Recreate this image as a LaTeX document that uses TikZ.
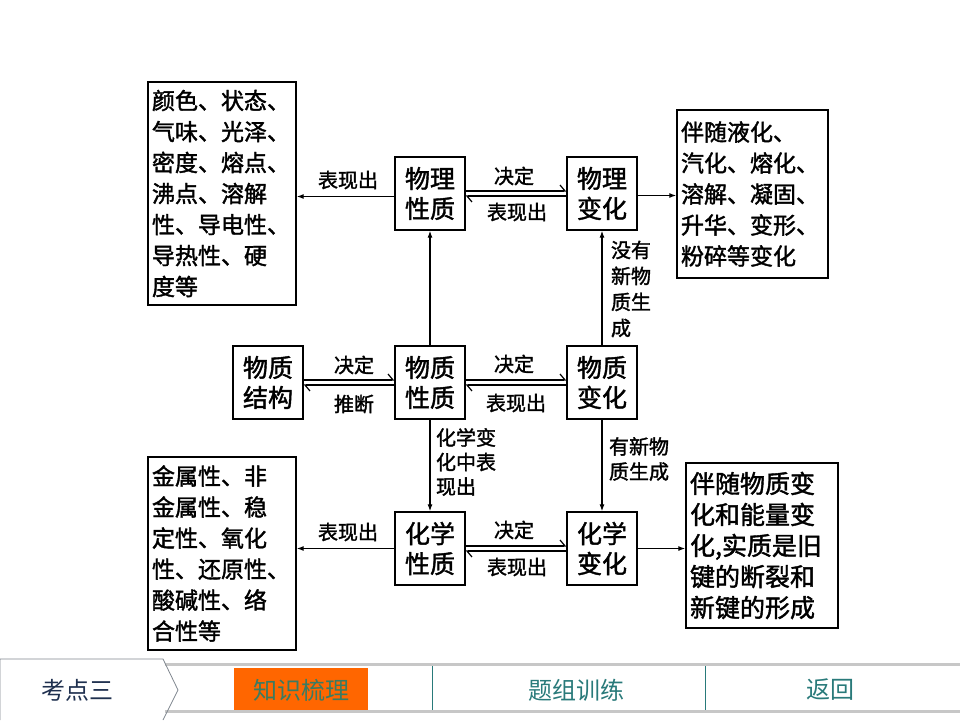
\documentclass[tikz,border=0pt]{standalone}
\usepackage{fontspec}
\setmainfont{Noto Sans CJK SC}[FakeBold=1.6,AutoFakeBold=1.6]
\newfontfamily\navfont{Noto Sans CJK SC}
\usetikzlibrary{arrows.meta}
\definecolor{tabgrey}{rgb}{0.50, 0.53, 0.56}
\definecolor{barline}{rgb}{0.78, 0.78, 0.78}
\definecolor{tabnavy}{rgb}{0.12, 0.19, 0.31}
\definecolor{menuteal}{rgb}{0.16, 0.48, 0.48}
\definecolor{menuorange}{rgb}{1.0, 0.40, 0.0}

\tikzset{
  box/.style={draw,line width=1.4pt,minimum width=70pt,minimum height=73pt,
    inner sep=0pt,align=center,font=\fontsize{25}{30}\selectfont},
  bigbox/.style={draw,line width=1.4pt,inner xsep=4pt,inner ysep=0pt,
    align=left,font=\fontsize{23}{31}\selectfont},
  lbl/.style={inner sep=0pt,font=\fontsize{20}{25}\selectfont},
  arr/.style={line width=1.1pt,-{Latex[length=7pt,width=5pt]}},
  harp/.style={line width=1.2pt,-{Straight Barb[left,length=5pt,width=12pt]}},
  navtext/.style={font=\navfont\fontsize{24}{24}\selectfont},
}

\begin{document}
\begin{tikzpicture}[x=1pt,y=-1pt]
\useasboundingbox[fill=white] (0,0) rectangle (960,720);
  % the six small boxes
  \node[box] (wlxz) at (430,193.5) {物理\\性质};
  \node[box] (wlbh) at (602,193.5) {物理\\变化};
  \node[box] (wzjg) at (268,382.5) {物质\\结构};
  \node[box] (wzxz) at (430,382.5) {物质\\性质};
  \node[box] (wzbh) at (602,382.5) {物质\\变化};
  \node[box] (hxxz) at (430,548.5) {化学\\性质};
  \node[box] (hxbh) at (602,548.5) {化学\\变化};
  % the four text boxes
  \node[bigbox,text width=140pt,minimum height=223pt] (wlxzl) at (222,193.5)
    {颜色、状态、\\气味、光泽、\\密度、熔点、\\沸点、溶解\\性、导电性、\\导热性、硬\\度等};
  \node[bigbox,text width=143pt,minimum height=168pt] (wlbhl) at (752.5,194)
    {伴随液化、\\汽化、熔化、\\溶解、凝固、\\升华、变形、\\粉碎等变化};
  \node[bigbox,text width=140pt,minimum height=193pt] (hxxzl) at (222,553.5)
    {金属性、非\\金属性、稳\\定性、氧化\\性、还原性、\\酸碱性、络\\合性等};
  \node[bigbox,text width=144pt,minimum height=165pt,
    font=\fontsize{25}{31}\selectfont] (hxbhl) at (762,545.5)
    {伴随物质变\\化和能量变\\化,实质是旧\\键的断裂和\\新键的形成};
  % labels on the connectors
  \node[lbl] (t1) at (348,180) {表现出};
  \node[lbl] (t2) at (514,176) {决定};
  \node[lbl] (t3) at (517,212) {表现出};
  \node[lbl] (t4) at (354,365) {决定};
  \node[lbl] (t5) at (354,404) {推断};
  \node[lbl] (t6) at (514,364) {决定};
  \node[lbl] (t7) at (516,403) {表现出};
  \node[lbl] (t8) at (348,532) {表现出};
  \node[lbl] (t9) at (514,530) {决定};
  \node[lbl] (t10) at (517,567) {表现出};
  \node[lbl,align=left,font=\fontsize{20}{26}\selectfont] (t11) at (631,289) {没有\\新物\\质生\\成};
  \node[lbl,align=left,font=\fontsize{20}{24.5}\selectfont] (t12) at (466,462) {化学变\\化中表\\现出};
  \node[lbl,align=left,font=\fontsize{20}{25}\selectfont] (t13) at (639,459) {有新物\\质生成};
  % single arrows
  \draw[arr] ([yshift=-3pt]wlxz.west) -- ([yshift=-3pt]wlxz.west -| wlxzl.east);
  \draw[arr] ([yshift=-2pt]wlbh.east) -- ([yshift=-2pt]wlbh.east -| wlbhl.west);
  \draw[arr] (hxxz.west) -- (hxxz.west -| hxxzl.east);
  \draw[arr] (hxbh.east) -- (hxbh.east -| hxbhl.west);
  \draw[arr] (wzxz) -- (wlxz);
  \draw[arr] (wzbh) -- (wlbh);
  \draw[arr] (wzxz) -- (hxxz);
  \draw[arr] (wzbh) -- (hxbh);
  % paired harpoons
  \foreach \a/\b in {wlxz/wlbh,wzjg/wzxz,wzxz/wzbh,hxxz/hxbh}{
    \draw[harp] ([yshift=2.5pt]\a.east) -- ([yshift=2.5pt]\b.west);
    \draw[harp] ([yshift=-2.5pt]\b.west) -- ([yshift=-2.5pt]\a.east);
  }
  % navigation bar
  \draw[barline,line width=3pt] (165,664) -- (960,664);
  \draw[barline,line width=3pt] (165,711) -- (960,711);
  \draw[tabgrey,line width=0.8pt] (0,720) -- (0,659) -- (163,659) -- (178,690) -- (163,720);
  \node[navtext,text=tabnavy] (kd) at (77,690) {考点三};
  \fill[menuorange] (234,668) rectangle (368,710);
  \node[navtext,text=menuteal!80!olive] (zs) at (301,690) {知识梳理};
  \draw[menuteal,line width=0.6pt] (432,666) -- (432,710);
  \draw[menuteal,line width=0.6pt] (705,666) -- (705,710);
  \node[navtext,text=menuteal] (tz) at (576,690) {题组训练};
  \node[navtext,text=menuteal] (fh) at (830,690) {返回};
\end{tikzpicture}
\end{document}
